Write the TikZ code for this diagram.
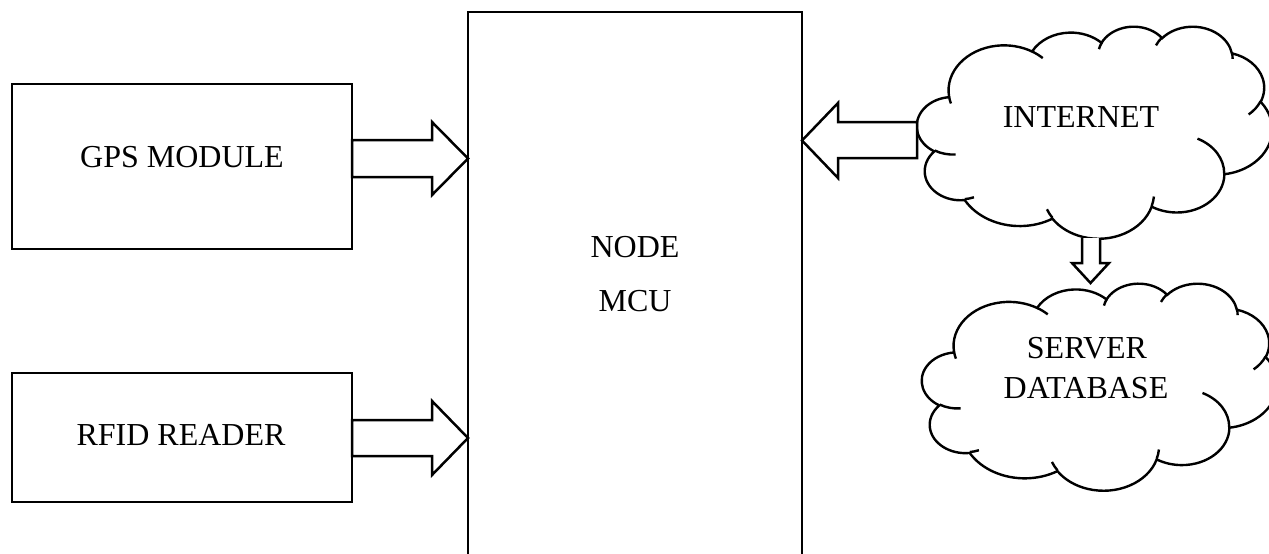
\documentclass[tikz,border=0pt]{standalone}
\usepackage{fontspec}
\setmainfont{Liberation Serif}
\newcommand\carc[4]{arc[x radius=#1, y radius=#2, start angle={vp(#3,#1,#2)}, end angle={vp((#3)+(#4),#1,#2)}]}
\newcommand\cloudpath{%
  \draw[cl, fill=white] (390,1437) \carc{675.3}{919.0}{-190.48748}{123.78053} \carc{533.3}{726.7}{-144.10238}{89.94523} \carc{436.5}{594.5}{-145.80792}{99.72302} \carc{485.7}{659.5}{-130.98607}{117.24173} \carc{533.3}{727.3}{-78.70888}{109.02692} \carc{677.5}{922.0}{-46.26725}{130.269} \carc{578.5}{786.7}{0.62502}{114.03333} \carc{675.2}{921.5}{22.4516}{115.17255} \carc{772.0}{1054.3}{66.24263}{75.71102} \carc{436.0}{591.8}{-274.94208}{146.73557} \carc{434.5}{594.5}{-246.8285}{152.51885} -- cycle;
  \draw[cl] (469.3,2617.7) \carc{434.5}{594.5}{86.742}{26.4295}
     (692.8,3489.9) \carc{436.0}{591.8}{73.61047}{11.44747}
     (1647.8,3909.0) \carc{675.2}{921.5}{137.62415}{14.0811}
     (2882.7,3475.1) \carc{675.2}{921.5}{6.45327}{15.99835}
     (3412.9,2295.4) \carc{578.5}{786.7}{-70.29235}{70.91737}
     (4179.8,1535.4) \carc{533.3}{727.3}{30.31803}{27.7515}
     (3832.4,542.6) \carc{485.7}{659.5}{-13.74433}{14.8589}
     (2907.8,395.2) \carc{485.7}{659.5}{-149.18145}{18.19537}
     (2214.1,472.0) \carc{436.5}{594.5}{-163.49427}{17.68635}
     (1400.0,519.2) \carc{675.3}{919.0}{-66.70695}{12.31935}
     (412.7,1578.9) \carc{675.3}{919.0}{157.65435}{11.85817};
}
\begin{document}
\begin{tikzpicture}[x=1pt,y=-1pt,
  declare function={dn(\dnD)=(\dnD)-360*round((\dnD)/360); vp(\vpT,\vpA,\vpB)=(\vpT)+dn(atan2((\vpA)*sin(\vpT),(\vpB)*cos(\vpT))-(\vpT));},
  box/.style={draw, line width=2.6pt, inner sep=0pt},
  lbl/.style={font=\fontsize{32}{38}\selectfont, inner sep=0pt, anchor=base},
  blk/.style={draw, fill=white, line width=2.5pt, line join=miter},
  cl/.style={line width=2.4pt}]
\useasboundingbox (0,0) rectangle (1269,554);
\clip (0,0) rectangle (1269,554);
% boxes
\node[box, minimum width=340pt, minimum height=165pt] (gps) at (182,166.5) {};
\node[box, minimum width=340pt, minimum height=129pt] (rfid) at (182,437.5) {};
\node[box, minimum width=334pt, minimum height=570pt, anchor=north] (mcu) at (635,10.5) {};
% clouds
\begin{scope}[shift={(917,26)}, x=0.08218pt, y=-0.04907pt]
  \cloudpath
\end{scope}
\begin{scope}[shift={(922,283)}, x=0.08218pt, y=-0.04792pt]
  \cloudpath
\end{scope}
% block arrows
\draw[blk] (352,140) -- (432,140) -- (432,122) -- (468,158.5) -- (432,195) -- (432,177) -- (352,177) -- cycle;
\draw[blk] (352,420) -- (432,420) -- (432,401) -- (468,438) -- (432,475) -- (432,456) -- (352,456) -- cycle;
\draw[blk] (917,122) -- (838,122) -- (838,103) -- (802,140.5) -- (838,178) -- (838,158) -- (917,158) -- cycle;
\draw[blk] (1082,238) -- (1082,263) -- (1072,263) -- (1090.5,283) -- (1109,263) -- (1100,263) -- (1100,238);
% labels
\node[lbl] (tgps) at (182,167) {GPS MODULE};
\node[lbl] (trfid) at (181,445) {RFID READER};
\node[lbl] (tnode) at (635,257) {NODE};
\node[lbl] (tmcu) at (635,311) {MCU};
\node[lbl] (tint) at (1081,127) {INTERNET};
\node[lbl] (tser) at (1087,358) {SERVER};
\node[lbl] (tdb) at (1086,398) {DATABASE};
\end{tikzpicture}
\end{document}
